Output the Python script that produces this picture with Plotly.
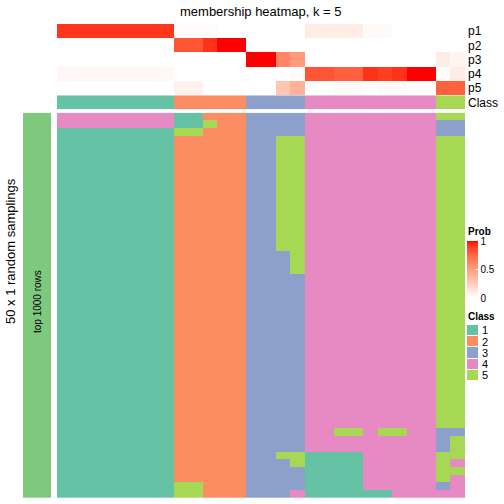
import plotly.graph_objects as go

# ---------------- data ----------------
prob_rows = ["p1", "p2", "p3", "p4", "p5"]
col_class = [1]*8 + [2]*5 + [3]*4 + [4]*9 + [5]*2

p1 = [0.92]*8 + [0.02, 0.02, 0.02, 0, 0] + [0, 0, 0, 0] + [0.10, 0.10, 0.10, 0.10, 0.03, 0.03, 0, 0, 0] + [0, 0]
p2 = [0]*8 + [0.82, 0.82, 0.93, 1.0, 1.0] + [0, 0, 0, 0] + [0]*9 + [0, 0]
p3 = [0]*8 + [0, 0, 0, 0, 0] + [1.0, 1.0, 0.62, 0.52] + [0]*9 + [0.10, 0.05]
p4 = [0.04]*8 + [0, 0, 0, 0, 0] + [0, 0, 0, 0.02] + [0.82, 0.82, 0.78, 0.78, 0.93, 0.90, 0.93, 1.0, 1.0] + [0.02, 0.10]
p5 = [0]*8 + [0.07, 0.07, 0, 0, 0] + [0, 0, 0.30, 0.40] + [0, 0, 0.02, 0.02, 0, 0.02, 0.02, 0, 0] + [0.78, 0.78]
prob = [p1, p2, p3, p4, p5]

membership_rows = (
    ["4444444411222333344444444455",
     "4444444411522333344444444433",
     "1111111155222333344444444433"]
    + ["1111111122222335544444444455"] * 15
    + ["1111111122222333544444444455"] * 3
    + ["1111111122222333344444444455"] * 20
    + ["1111111122222333344554554433",
       "1111111122222333344444444435",
       "1111111122222333344444444435",
       "1111111122222335511114444455",
       "1111111122222333511114444454",
       "1111111122222333311114444455",
       "1111111122222333311114444454",
       "1111111155222333311114444434",
       "1111111155222333411111144444"]
)
membership = [[int(c) for c in r] for r in membership_rows]

class_labels = ["1", "2", "3", "4", "5"]
class_colors = ["#66C2A5", "#FC8D62", "#8DA0CB", "#E78AC3", "#A6D854"]
bar_color = "#7FC97F"

# ---------------- helpers (styling) ----------------
W = 504.0
def fx(p): return p / W
def fy(p): return 1 - p / W

def lab_to_hex(L, a, b):
    fyv = (L + 16) / 116.0
    fxv = fyv + a / 500.0
    fzv = fyv - b / 200.0
    def finv(t):
        return t**3 if t**3 > 0.008856 else (t - 16/116.0) / 7.787
    X = 0.95047 * finv(fxv); Y = finv(fyv); Z = 1.08883 * finv(fzv)
    r = 3.2406*X - 1.5372*Y - 0.4986*Z
    g = -0.9689*X + 1.8758*Y + 0.0415*Z
    bb = 0.0557*X - 0.2040*Y + 1.0570*Z
    def gam(c):
        c = 12.92*c if c <= 0.0031308 else 1.055*c**(1/2.4) - 0.055
        return int(round(max(0, min(1, c)) * 255))
    return "#%02x%02x%02x" % (gam(r), gam(g), gam(bb))

red_scale = []
for i in range(21):
    t = i / 20.0
    red_scale.append([t, lab_to_hex(100 - 46.76*t, 80.09*t, 67.20*t)])

def discrete_scale(cols):
    n = len(cols)
    sc = []
    for i, c in enumerate(cols):
        sc.append([i/n, c]); sc.append([(i+1)/n, c])
    return sc

cls_scale = discrete_scale(class_colors)
FONT = "Liberation Sans, Arial, sans-serif"

fig = go.Figure()

# probability heatmap
fig.add_trace(go.Heatmap(
    z=prob, x=list(range(len(col_class))), y=list(range(5)),
    xaxis="x", yaxis="y2", colorscale=red_scale, zmin=0, zmax=1,
    hoverinfo="skip",
    colorbar=dict(x=fx(467), xanchor="left", y=fy(241), yanchor="top",
                  len=57, lenmode="pixels", thickness=11, thicknessmode="pixels",
                  outlinewidth=0, xpad=0, ypad=0,
                  tickvals=[0, 0.5, 1], ticktext=["0", "0.5", "1"],
                  ticks="inside", ticklen=3, tickcolor="white",
                  tickfont=dict(size=10, color="#000", family=FONT))))

# class row
fig.add_trace(go.Heatmap(
    z=[col_class], x=list(range(len(col_class))), y=[0],
    xaxis="x", yaxis="y3", colorscale=cls_scale, zmin=0.5, zmax=5.5,
    showscale=False, hoverinfo="skip"))

# main membership heatmap
fig.add_trace(go.Heatmap(
    z=membership, x=list(range(len(col_class))), y=list(range(len(membership))),
    xaxis="x", yaxis="y", colorscale=cls_scale, zmin=0.5, zmax=5.5,
    showscale=False, hoverinfo="skip"))

# left bar
fig.add_trace(go.Heatmap(
    z=[[1] for _ in membership], x=[0], y=list(range(len(membership))),
    xaxis="x2", yaxis="y", colorscale=[[0, bar_color], [1, bar_color]],
    showscale=False, hoverinfo="skip"))

# class legend
fig.add_trace(go.Heatmap(
    z=[[i+1] for i in range(5)], x=[0], y=list(range(5)),
    xaxis="x3", yaxis="y4", colorscale=cls_scale, zmin=0.5, zmax=5.5,
    ygap=1, showscale=False, hoverinfo="skip"))

hid = dict(visible=False, showgrid=False, zeroline=False, fixedrange=True)
fig.update_layout(
    width=504, height=504, margin=dict(l=0, r=0, t=0, b=0),
    paper_bgcolor="white", plot_bgcolor="white",
    font=dict(family=FONT, color="#000"),
    xaxis=dict(domain=[fx(57), fx(465)], range=[-0.5, len(col_class)-0.5], anchor="y", **hid),
    yaxis=dict(domain=[fy(498), fy(112.7)], range=[len(membership)-0.5, -0.5], anchor="x", **hid),
    yaxis2=dict(domain=[fy(95), fy(24)], range=[4.5, -0.5], anchor="x", side="right",
                tickvals=list(range(5)), ticktext=prob_rows, showgrid=False, zeroline=False,
                ticks="", tickfont=dict(size=12), ticklabelstandoff=2, showline=False),
    yaxis3=dict(domain=[fy(109.3), fy(95.3)], range=[0.5, -0.5], anchor="x", side="right",
                tickvals=[0], ticktext=["Class"], showgrid=False, zeroline=False,
                ticks="", tickfont=dict(size=12), ticklabelstandoff=2),
    xaxis2=dict(domain=[fx(23), fx(51)], range=[-0.5, 0.5], anchor="y", **hid),
    xaxis3=dict(domain=[fx(467), fx(478)], range=[-0.5, 0.5], anchor="y4", **hid),
    yaxis4=dict(domain=[fy(381), fy(325)], range=[4.5, -0.5], anchor="x3", side="right",
                tickvals=list(range(5)), ticktext=class_labels, showgrid=False, zeroline=False,
                ticks="", tickfont=dict(size=11), ticklabelstandoff=3),
    annotations=[
        dict(text="membership heatmap, k = 5", x=fx(261), y=fy(11), xref="paper", yref="paper",
             showarrow=False, font=dict(size=13), xanchor="center", yanchor="middle"),
        dict(text="50 x 1 random samplings", x=fx(10), y=fy(251), xref="paper", yref="paper",
             showarrow=False, font=dict(size=13), textangle=-90, xanchor="center", yanchor="middle"),
        dict(text="top 1000 rows", x=fx(37), y=fy(302), xref="paper", yref="paper",
             showarrow=False, font=dict(size=10), textangle=-90, xanchor="center", yanchor="middle"),
        dict(text="<b>Prob</b>", x=fx(466), y=fy(232), xref="paper", yref="paper",
             showarrow=False, font=dict(size=10), xanchor="left", yanchor="middle"),
        dict(text="<b>Class</b>", x=fx(466), y=fy(316), xref="paper", yref="paper",
             showarrow=False, font=dict(size=10), xanchor="left", yanchor="middle"),
    ],
)

fig.write_html("out.html", config={"displayModeBar": False},
               post_script="document.body.style.margin='0px';")
